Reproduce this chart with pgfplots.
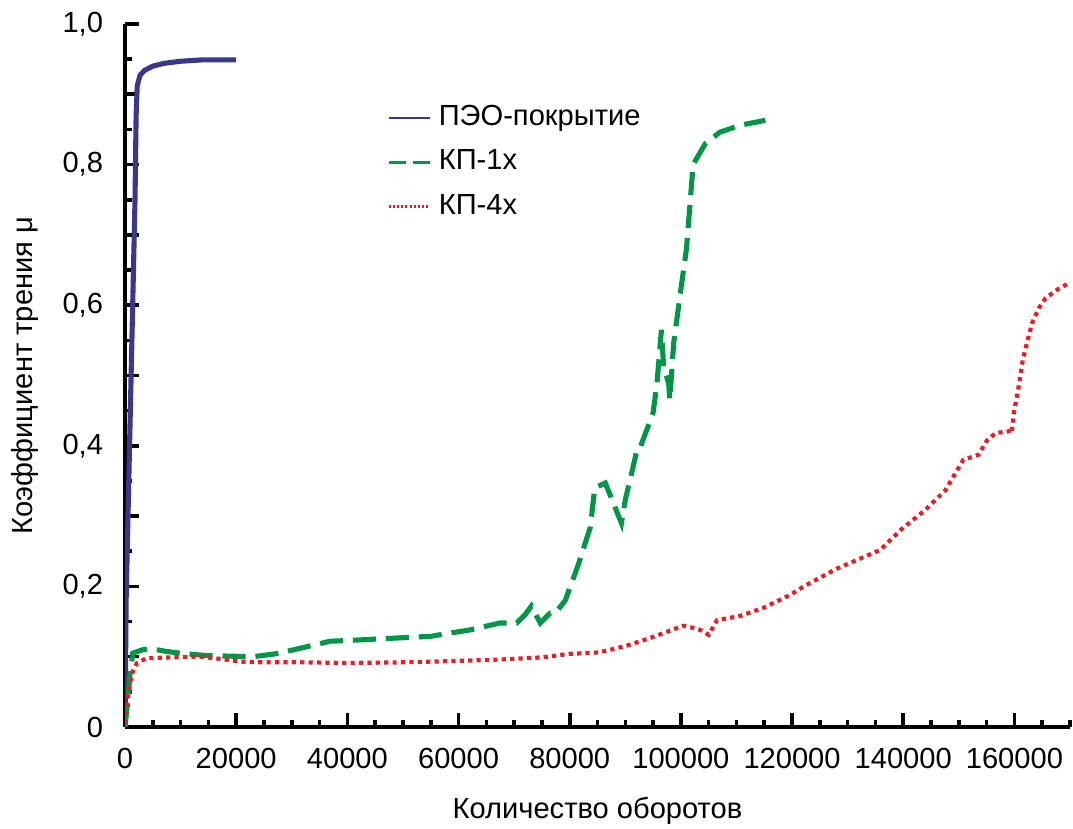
\documentclass[border=0pt]{standalone}
\usepackage{fontspec}
\setmainfont{Liberation Sans}
\usepackage{pgfplots}
\pgfplotsset{compat=1.18}
\definecolor{cblue}{RGB}{58,55,140}
\definecolor{cgreen}{RGB}{0,150,70}
\definecolor{cred}{RGB}{230,30,40}
\newcommand{\ff}{\fontsize{9.7}{11}\selectfont}
\begin{document}
\begin{tikzpicture}
\begin{axis}[
  scale only axis, width=315pt, height=234.33pt,
  xmin=0, xmax=170000, ymin=0, ymax=1,
  axis lines*=left,
  axis line style={line width=1.5pt, black},
  tick align=inside,
  xtick={0,20000,40000,60000,80000,100000,120000,140000,160000},
  xticklabels={0,20000,40000,60000,80000,100000,120000,140000,160000},
  minor xtick={5000,10000,15000,25000,30000,35000,45000,50000,55000,65000,70000,75000,85000,90000,95000,105000,110000,115000,125000,130000,135000,145000,150000,155000,165000,170000},
  ytick={0,0.1,0.2,0.3,0.4,0.5,0.6,0.7,0.8,0.9,1},
  yticklabels={0,{},{0,2},{},{0,4},{},{0,6},{},{0,8},{},{1,0}},
  minor ytick={0.05,0.15,0.25,0.35,0.45,0.55,0.65,0.75,0.85,0.95},
  major tick length=4.6pt, minor tick length=2.2pt,
  tick style={black, line width=1.2pt},
  scaled x ticks=false,
  tick label style={font=\ff},
  xticklabel style={yshift=-3.5pt},
  yticklabel style={xshift=-3.8pt},
  xlabel={Количество оборотов},
  ylabel={Коэффициент трения μ},
  xlabel style={at={([yshift=-30.5pt]axis description cs:0.5,0)}, anchor=base, font=\ff},
  ylabel style={at={([xshift=-33.3pt]axis description cs:0,0.5)}, anchor=center, font=\ff},
  legend style={at={(rel axis cs:0.2765,0.899)}, anchor=north west, draw=none, fill=none,
    inner sep=0pt, row sep=0pt, font=\ff,
    nodes={text height=7pt, text depth=2pt, inner ysep=2.9pt, inner xsep=2.5pt}},
  legend cell align=left,
  legend image code/.code={\draw[#1] (0pt,0pt) -- (13.7pt,0pt);},
]
\coordinate (O) at (rel axis cs:0,0);
\coordinate (E) at (rel axis cs:1,1);

\addplot[forget plot, cblue, line width=1.7pt] coordinates {
(0,0) (200,0.18) (1100,0.5) (1800,0.75) (2000,0.87) (2200,0.912) (2700,0.927) (3500,0.934) (5000,0.94) (7000,0.944) (10000,0.947) (14000,0.949) (20000,0.949)
};

\addplot[forget plot, cgreen, line width=1.7pt, dash pattern=on 7.7pt off 3.3pt] coordinates {
(0,0) (500,0.038) (900,0.075) (1400,0.105) (3200,0.11) (5000,0.111) (7000,0.108) (9900,0.105) (14000,0.102) (17600,0.101) (23000,0.1) (27000,0.104) (31000,0.111) (36900,0.122) (40000,0.123) (45000,0.125) (50000,0.127) (55000,0.129) (58000,0.133) (62000,0.138) (67500,0.148) (70500,0.148) (72000,0.16) (73100,0.172) (74700,0.148) (76500,0.162) (77400,0.162) (79200,0.18) (81500,0.23) (83700,0.284) (84500,0.34) (86400,0.347) (89300,0.29) (90000,0.323) (92200,0.397) (92700,0.398) (95000,0.447) (95700,0.489) (96500,0.565) (96900,0.512) (97800,0.489) (98000,0.465) (98700,0.546) (99900,0.617) (101000,0.68) (102200,0.8) (104400,0.83) (107000,0.846) (110700,0.856) (115200,0.863)
};

\addplot[forget plot, cred, line width=1.4pt, dash pattern=on 1.4pt off 1.4pt] coordinates {
(0,0.005) (500,0.04) (900,0.063) (1500,0.082) (2160,0.091) (3900,0.098) (8000,0.099) (13500,0.1) (17000,0.097) (20700,0.093) (25000,0.092) (31500,0.092) (40000,0.091) (50000,0.092) (60000,0.094) (67500,0.096) (75000,0.099) (80000,0.104) (85200,0.106) (90000,0.115) (95000,0.128) (100400,0.144) (102200,0.141) (103500,0.138) (105000,0.131) (106500,0.152) (110700,0.158) (115000,0.17) (119700,0.188) (122100,0.2) (128000,0.225) (135900,0.252) (139500,0.28) (144000,0.309) (147600,0.337) (150800,0.38) (153500,0.387) (155100,0.408) (156600,0.418) (159300,0.421) (159500,0.418) (159900,0.447) (160800,0.486) (161500,0.522) (162300,0.548) (163200,0.575) (164400,0.596) (165600,0.61) (167700,0.622) (169500,0.63) (170000,0.632)
};

\addlegendimage{cblue, line width=0.8pt}
\addlegendentry{ПЭО-покрытие}
\addlegendimage{cgreen, line width=1.1pt, dash pattern=on 5.8pt off 2.3pt}
\addlegendentry{КП-1х}
\addlegendimage{cred, line width=0.9pt, dash pattern=on 0.7pt off 0.7pt}
\addlegendentry{КП-4х}
\end{axis}
\pgfresetboundingbox
\path[use as bounding box] ([xshift=-41.67pt,yshift=-33.67pt]O) rectangle ([xshift=1pt,yshift=8pt]E);
\end{tikzpicture}
\end{document}
